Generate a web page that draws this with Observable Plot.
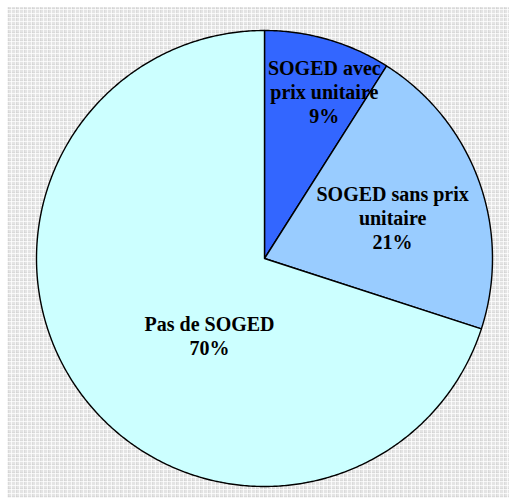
<!DOCTYPE html>
<html>
<head>
<meta charset="utf-8">
<script src="https://cdn.jsdelivr.net/npm/d3@7"></script>
<script src="https://cdn.jsdelivr.net/npm/@observablehq/plot@0.6"></script>
<style>
  html, body { margin: 0; padding: 0; background: #fff; }
  #wrap { position: relative; width: 509px; height: 500px; }
  #bg {
    position: absolute; left: 7px; top: 7px; width: 502px; height: 491px;
    background-color: #e4e4e4;
    background-image:
      repeating-linear-gradient(0deg, rgba(255,255,255,0.75) 0 1px, transparent 1px 4px),
      repeating-linear-gradient(90deg, rgba(255,255,255,0.75) 0 1px, transparent 1px 4px),
      repeating-linear-gradient(0deg, rgba(200,200,200,0.35) 0 2px, transparent 2px 8px),
      repeating-linear-gradient(90deg, rgba(200,200,200,0.35) 0 2px, transparent 2px 8px);
  }
  #chart { position: absolute; left: 0; top: 0; }
</style>
</head>
<body>
<div id="wrap"><div id="bg"></div><div id="chart"></div></div>
<script>
const categories = ["SOGED avec prix unitaire", "SOGED sans prix unitaire", "Pas de SOGED"];
const labelTexts = ["SOGED avec\nprix unitaire", "SOGED sans prix\nunitaire", "Pas de SOGED"];
const values = [9, 21, 70];
const colors = ["#3366ff", "#99ccff", "#ccffff"];

const arcs = d3.pie().sort(null)(values);

// wedge outlines: center -> arc -> center
const wedgePoints = [];
arcs.forEach((a, i) => {
  const cat = categories[i];
  wedgePoints.push({cat, x: 0, y: 0});
  const n = Math.max(4, Math.ceil((a.endAngle - a.startAngle) / (Math.PI / 360)));
  for (let k = 0; k <= n; k++) {
    const t = a.startAngle + (a.endAngle - a.startAngle) * k / n;
    wedgePoints.push({cat, x: Math.sin(t), y: Math.cos(t)});
  }
  wedgePoints.push({cat, x: 0, y: 0});
});

// label placement (radius fraction, angle offset in degrees from slice mid-angle)
const place = [[0.778, 3.5], [0.59, 2.0], [0.415, -18.5]];
const labels = arcs.map((a, i) => {
  const mid = (a.startAngle + a.endAngle) / 2 + place[i][1] * Math.PI / 180;
  return {
    x: place[i][0] * Math.sin(mid),
    y: place[i][0] * Math.cos(mid),
    text: labelTexts[i] + "\n" + values[i] + "%"
  };
});

const chart = Plot.plot({
  width: 509,
  height: 500,
  margin: 0,
  style: {background: "transparent", overflow: "visible"},
  x: {domain: [-1, 1], range: [36, 492], axis: null},
  y: {domain: [-1, 1], range: [486, 30], axis: null},
  color: {domain: categories, range: colors},
  marks: [
    Plot.line(wedgePoints, {
      x: "x", y: "y", z: "cat", fill: "cat",
      stroke: "#000", strokeWidth: 1.4, strokeLinejoin: "round"
    }),
    Plot.text(labels, {
      x: "x", y: "y", text: "text",
      fontSize: 20, fontWeight: "bold",
      fontFamily: "'Liberation Serif', 'Times New Roman', serif",
      fill: "#000", lineHeight: 1.2
    })
  ]
});
document.getElementById("chart").appendChild(chart);
</script>
</body>
</html>
